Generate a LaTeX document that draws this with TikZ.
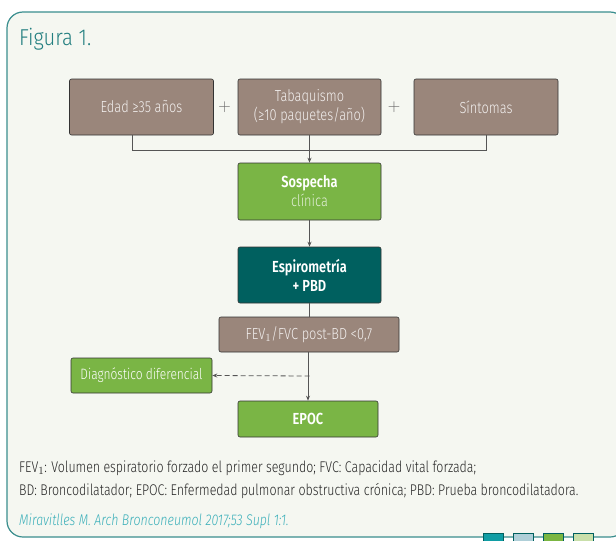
\documentclass[tikz,border=0pt]{standalone}
\usepackage{fontspec}
\setmainfont{Fira Sans Light}[FakeStretch=0.80, BoldFont={Fira Sans SemiBold}, BoldFeatures={FakeStretch=0.80}]
\newfontfamily\figfont{Fira Sans Light}[FakeStretch=0.88]
\usetikzlibrary{arrows.meta,calc}
\definecolor{bgpanel}{HTML}{F5F7F1}
\definecolor{frameteal}{HTML}{3A8E8E}
\definecolor{titleteal}{HTML}{237F80}
\definecolor{citeteal}{HTML}{3AAFB9}
\definecolor{boxbrown}{HTML}{9A867B}
\definecolor{boxgreen}{HTML}{7AB545}
\definecolor{boxteal}{HTML}{00605F}
\definecolor{lineGray}{HTML}{555555}
\definecolor{sqteal}{HTML}{109DA4}
\definecolor{sqblue}{HTML}{AFCFD8}
\definecolor{sqgreen}{HTML}{7BB642}
\definecolor{sqlight}{HTML}{C9DFAA}
\tikzset{
  flowbox/.style={draw=black!80, line width=0.6pt, rounded corners=2pt,
    align=center, inner sep=2pt, font=\fontsize{16}{19}\selectfont},
  brownbox/.style={flowbox, fill=boxbrown, text=white!88!boxbrown},
  greenbox/.style={flowbox, fill=boxgreen, text=white},
  tealbox/.style={flowbox, fill=boxteal, text=white},
  link/.style={draw=lineGray, line width=0.8pt},
  arrowlink/.style={link, -{Stealth[length=5pt,width=4pt]}},
  plussign/.style={text=black!60, font=\fontsize{17}{17}\selectfont, inner sep=0},
  footline/.style={anchor=base west, inner sep=0, text=black!85, font=\fontsize{15.5}{18}\selectfont},
  swatch/.style={line width=0.8pt}
}
\begin{document}
\begin{tikzpicture}[x=1pt,y=-1pt]
\useasboundingbox (0,0) rectangle (616,541);
% panel
\fill[white] (0,0) rectangle (616,541);
\draw[frameteal, line width=1.2pt, fill=bgpanel, rounded corners=16pt] (7,12) rectangle (626,537);
\node[anchor=base west, text=titleteal, font=\figfont\fontsize{23}{25}\selectfont, inner sep=0] (title) at (19,45) {Figura 1.};

% top row
\node[brownbox, minimum width=144pt, minimum height=56pt] (edad) at (141.5,107) {Edad ≥35 años};
\node[brownbox, minimum width=143pt, minimum height=56pt] (tabaq) at (309.5,107) {Tabaquismo\\(≥10 paquetes/año)};
\node[brownbox, minimum width=144pt, minimum height=56pt] (sint) at (486,107) {Síntomas};
\node[plussign] (plus1) at (224.5,107) {$+$};
\node[plussign] (plus2) at (394,107) {$+$};

% central column
\node[greenbox, minimum width=143pt, minimum height=57pt] (sosp) at (309.5,191.5) {\textbf{Sospecha}\\{\color{white!80!boxgreen}clínica}};
\node[tealbox, minimum width=143pt, minimum height=56pt] (espiro) at (309.5,275) {\textbf{Espirometría}\\\textbf{+ PBD}};
\node[brownbox, minimum width=180pt, minimum height=35pt] (fev) at (309,334.5) {FEV$_1$/FVC post-BD <0,7};
\node[greenbox, minimum width=141pt, minimum height=35pt, font=\fontsize{15}{18}\selectfont] (diag) at (141.5,375.5) {Diagnóstico diferencial};
\node[greenbox, minimum width=140pt, minimum height=36pt] (epoc) at (308,419) {\textbf{EPOC}};

% connectors
\coordinate (jl) at (132,150);
\coordinate (jr) at (486,150);
\coordinate (jd) at (309.5,376);
\draw[link] (edad.south -| jl) -- (jl) -- (jr) -- (sint.south);
\draw[arrowlink] (tabaq.south) -- (sosp.north);
\draw[arrowlink] (sosp.south) -- (espiro.north);
\draw[link] (espiro.south) -- (espiro.south |- fev.north);
\draw[arrowlink] (fev.south -| epoc.north) -- (epoc.north);
\draw[link, dashed, dash pattern=on 5pt off 3pt, -{Stealth[length=5pt,width=4pt]}] (jd) -- (diag.east);

% footnotes
\node[footline] (note1) at (19,472)
  {FEV$_1$: Volumen espiratorio forzado el primer segundo; FVC: Capacidad vital forzada;};
\node[footline] (note2) at (19,495)
  {BD: Broncodilatador; EPOC: Enfermedad pulmonar obstructiva crónica; PBD: Prueba broncodilatadora.};
\node[footline, text=citeteal, font=\itshape\fontsize{15.5}{18}\selectfont] (cite) at (19,525)
  {Miravitlles M. Arch Bronconeumol 2017;53 Supl 1:1.};

% colour swatches
\draw[swatch, fill=sqteal, draw=boxteal] (483,533) rectangle (503,548);
\draw[swatch, fill=sqblue, draw=boxteal] (513,533) rectangle (533,548);
\draw[swatch, fill=sqgreen, draw=boxteal] (543,533) rectangle (563,548);
\draw[swatch, fill=sqlight, draw=boxteal] (573,533) rectangle (593,548);
\end{tikzpicture}
\end{document}
